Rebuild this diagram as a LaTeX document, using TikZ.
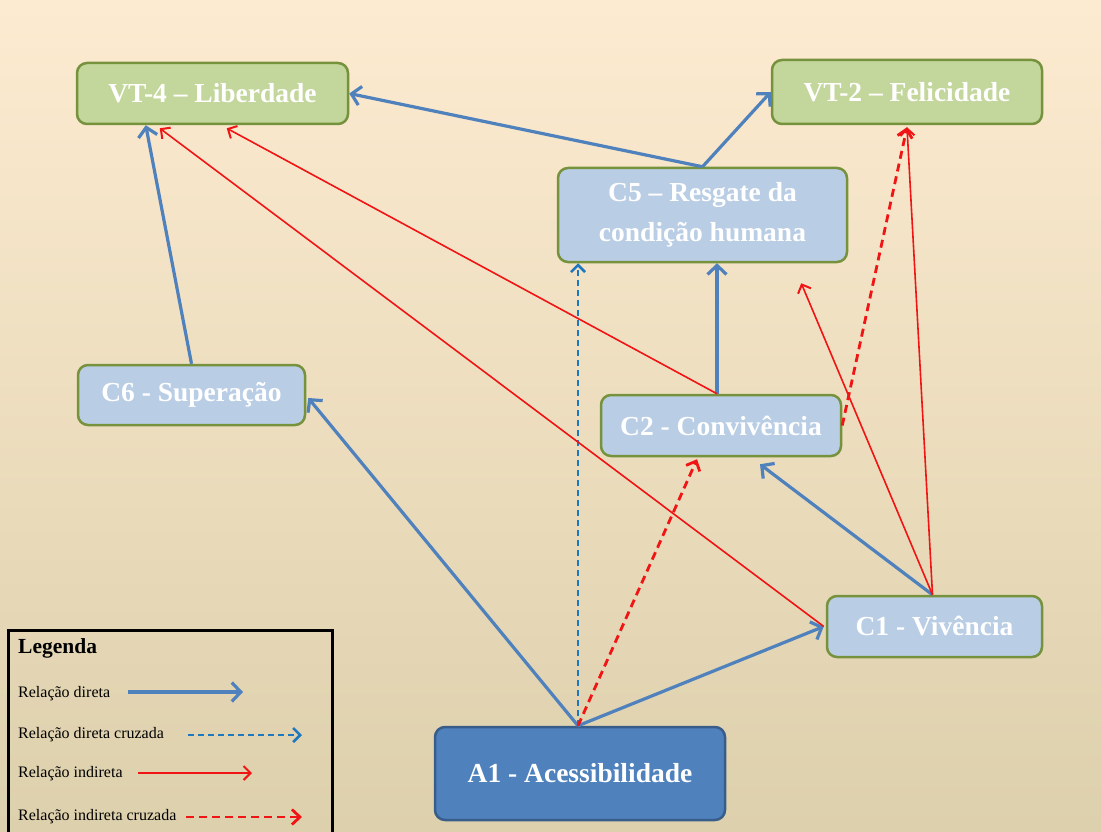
\documentclass[tikz,border=0pt]{standalone}
\usepackage{fontspec}
\setmainfont{Liberation Serif}
\usetikzlibrary{arrows.meta,calc}
\definecolor{bgtop}{RGB}{253,235,209}
\definecolor{bgbot}{RGB}{221,208,172}
\definecolor{lineblue}{RGB}{79,129,189}
\definecolor{dashblue}{RGB}{30,120,192}
\definecolor{boxblue}{RGB}{185,205,229}
\definecolor{boxgreen}{RGB}{195,214,155}
\definecolor{edgegreen}{RGB}{118,146,60}
\definecolor{darkblue}{RGB}{56,93,138}
\definecolor{lred}{RGB}{240,20,20}
\begin{document}
\begin{tikzpicture}[x=1pt,y=-1pt,
  box/.style={rounded corners=10pt, line width=2.5pt, draw=edgegreen, inner sep=0pt,
    text=white, align=center, font=\fontsize{27.5}{40}\selectfont\bfseries},
  vbox/.style={box, fill=boxgreen},
  cbox/.style={box, fill=boxblue},
  abox/.style={box, fill=lineblue, draw=darkblue},
  dirarr/.style={draw=lineblue, line width=3.2pt, -{Straight Barb[length=9pt,width=19pt]}},
  dircross/.style={draw=dashblue, line width=2.6pt, dash pattern=on 6pt off 4pt, -{Straight Barb[length=7pt,width=14pt]}},
  indarr/.style={draw=lred, line width=1.6pt, -{Straight Barb[length=7pt,width=14pt,line width=2pt]}},
  indcross/.style={draw=lred, line width=2.8pt, dash pattern=on 8pt off 5pt, -{Straight Barb[length=8pt,width=15pt]}},
  legtext/.style={anchor=west, inner sep=0pt, font=\fontsize{16}{18}\selectfont}
]
\useasboundingbox (0,0) rectangle (1101,832);
\shade[top color=bgtop, bottom color=bgbot] (0,0) rectangle (1101,832);

% nodes
\node[vbox, minimum width=271pt, minimum height=61pt] (VT4) at (212.5,93.5) {VT-4 -- Liberdade};
\node[vbox, minimum width=270pt, minimum height=64pt] (VT2) at (907,92) {VT-2 -- Felicidade};
\node[cbox, minimum width=289pt, minimum height=94pt] (C5) at (702.5,215) {C5 -- Resgate da\\condição humana};
\node[cbox, minimum width=227pt, minimum height=60pt] (C6) at (191.5,395) {C6 - Superação};
\node[cbox, minimum width=240pt, minimum height=61pt] (C2) at (721,425.5) {C2 - Convivência};
\node[cbox, minimum width=215pt, minimum height=61pt] (C1) at (934.5,626.5) {C1 - Vivência};
\node[abox, minimum width=290pt, minimum height=93pt] (A1) at (580,773.5) {A1 - Acessibilidade};

% helper coordinates
\coordinate (Atop) at ([xshift=-2pt]A1.north);
\coordinate (C5free) at ([xshift=-47pt,yshift=-20pt]C5.south east);

% direct relations
\draw[dirarr] (C6.north) -- ([xshift=70pt]VT4.south west);
\draw[dirarr] (Atop) -- ([xshift=2pt,yshift=-3pt]C6.east);
\draw[dirarr] (Atop) -- ([xshift=-2pt]C1.west);
\draw[dirarr] ([xshift=-2pt]C1.north) -- ([xshift=39pt,yshift=-7pt]C2.south);
\draw[dirarr] ([xshift=-4pt]C2.north) -- ([xshift=-4pt]C2.north |- C5.south);
\draw[dirarr] (C5.north) -- (VT4.east);
\draw[dirarr] (C5.north) -- (VT2.west);

% direct crossed
\draw[dircross] (Atop) -- (Atop |- C5.south);

% indirect crossed
\draw[indcross] (Atop) -- ([xshift=-24pt,yshift=-2pt]C2.south);
\draw[indcross] (C2.east) -- ([yshift=-2pt]VT2.south);

% indirect
\draw[indarr] ([xshift=-2pt]C1.west) -- ([xshift=84pt,yshift=-3pt]VT4.south west);
\draw[indarr] ([xshift=-4pt]C2.north) -- ([xshift=151pt,yshift=-3pt]VT4.south west);
\draw[indarr] ([xshift=-2pt]C1.north) -- (C5free);
\draw[indarr] ([xshift=-2pt]C1.north) -- ([yshift=-2pt]VT2.south);

% legend
\draw[line width=3pt] (8,630) rectangle (332,860);
\node[legtext, font=\fontsize{21.5}{24}\selectfont\bfseries] (lt0) at (18,648) {Legenda};
\node[legtext] (lt1) at (18,694) {Relação direta};
\node[legtext] (lt2) at (18,735) {Relação direta cruzada};
\node[legtext] (lt3) at (18,774) {Relação indireta};
\node[legtext] (lt4) at (18,817) {Relação indireta cruzada};
\coordinate (l1a) at (128,692); \coordinate (l1b) at (243,692);
\coordinate (l2a) at (188,735); \coordinate (l2b) at (302,735);
\coordinate (l3a) at (138,773); \coordinate (l3b) at (252,773);
\coordinate (l4a) at (186,817); \coordinate (l4b) at (302,817);
\draw[dirarr] (l1a) -- (l1b);
\draw[dircross] (l2a) -- (l2b);
\draw[indarr] (l3a) -- (l3b);
\draw[indcross] (l4a) -- (l4b);
\end{tikzpicture}
\end{document}
